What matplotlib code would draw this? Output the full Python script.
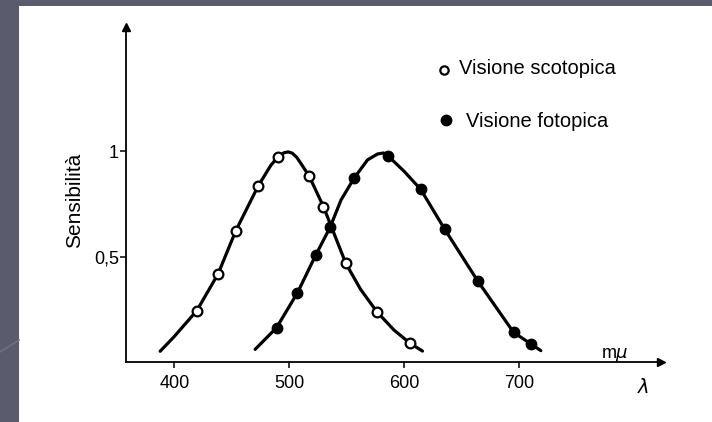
import matplotlib
matplotlib.use("Agg")
import matplotlib.pyplot as plt
from matplotlib.patches import Rectangle
from matplotlib.lines import Line2D

plt.rcParams['font.family'] = ['Liberation Sans', 'DejaVu Sans']

# misure (lunghezza d'onda in m-mu, sensibilita' relativa)
scot_l = [419.6, 438.1, 453.5, 472.9, 490.3, 517.2, 529.7, 549.1, 576.1, 605.0]
scot_s = [0.244, 0.419, 0.624, 0.836, 0.975, 0.884, 0.738, 0.469, 0.239, 0.089]
foto_l = [488.9, 507.1, 523.0, 535.5, 556.3, 585.9, 614.3, 635.2, 663.7, 695.0, 710.0]
foto_s = [0.163, 0.329, 0.508, 0.640, 0.873, 0.979, 0.820, 0.630, 0.386, 0.141, 0.086]

# tracciato delle curve
scot_curve_l = [387.7, 399.8, 419.6, 438.1, 453.5, 472.9, 484.0, 490.3, 495.4, 499.0, 502.6,
                506.5, 510.0, 517.2, 529.7, 549.1, 562.0, 576.1, 591.0, 605.0, 615.8]
scot_curve_s = [0.051, 0.120, 0.244, 0.419, 0.624, 0.836, 0.935, 0.975, 0.994, 0.998, 0.992,
                0.972, 0.944, 0.884, 0.738, 0.469, 0.345, 0.239, 0.152, 0.089, 0.052]
foto_curve_l = [470.3, 488.9, 507.1, 523.0, 535.5, 545.0, 556.3, 568.0, 576.7, 582.0, 585.9,
                600.0, 614.3, 635.2, 663.7, 695.0, 710.0, 718.7]
foto_curve_s = [0.060, 0.163, 0.329, 0.508, 0.640, 0.770, 0.873, 0.960, 0.988, 0.993, 0.979,
                0.905, 0.820, 0.630, 0.386, 0.141, 0.086, 0.054]

x_ticks = [400, 500, 600, 700]
y_ticks = [0.5, 1]
y_ticklabels = ['0,5', '1']

fig = plt.figure(figsize=(7.12, 4.22), dpi=100, facecolor='#5a5c6e')
fig.patches.append(Rectangle((19 / 712, 0), 1, 1 - 6 / 422, transform=fig.transFigure,
                             facecolor='white', edgecolor='none', zorder=-2))
fig.lines.append(Line2D([0, 19 / 712], [70 / 422, 82 / 422], transform=fig.transFigure,
                        color='#6e7082', lw=1.2, zorder=-1))

ax = fig.add_axes([126 / 712, 60 / 422, 534.75 / 712, 334.7 / 422])
ax.set_zorder(1)
ax.set_facecolor('none')
ax.set_xlim(358, 823)
ax.set_ylim(0, 1.59)

ax.plot(scot_curve_l, scot_curve_s, color='black', lw=2.3, solid_capstyle='round', zorder=2)
ax.plot(foto_curve_l, foto_curve_s, color='black', lw=2.3, solid_capstyle='round', zorder=2)
ax.plot(scot_l, scot_s, 'o', ms=7, mfc='white', mec='black', mew=1.6, zorder=3)
ax.plot(foto_l, foto_s, 'o', ms=7.5, mfc='black', mec='black', zorder=3)

for side in ['top', 'right']:
    ax.spines[side].set_visible(False)
for side in ['left', 'bottom']:
    ax.spines[side].set_linewidth(1.3)
ax.plot(1, 0, '>', color='black', ms=6, transform=ax.transAxes, clip_on=False)
ax.plot(0, 1, '^', color='black', ms=6, transform=ax.transAxes, clip_on=False)

ax.set_xticks(x_ticks)
ax.set_yticks(y_ticks)
ax.set_yticklabels(y_ticklabels)
ax.tick_params(axis='both', direction='out', length=4, width=1.1, labelsize=13)
ax.tick_params(axis='x', pad=5)
ax.tick_params(axis='y', pad=1)

ax.set_ylabel('Sensibilità', fontsize=15)
ax.yaxis.set_label_coords(-0.0785, 0.484)
ax.text(783, 0.033, 'm$\\mu$', fontsize=13, ha='center', va='center')
ax.text(808, -0.12, '$\\lambda$', fontsize=14, ha='center', va='center', clip_on=False)

# legenda
ax.plot(634.3, 1.387, 'o', ms=6, mfc='white', mec='black', mew=1.6, clip_on=False)
ax.plot(636.1, 1.150, 'o', ms=7.5, mfc='black', mec='black', clip_on=False)
ax.text(647.4, 1.368, 'Visione scotopica', fontsize=14.5, va='baseline')
ax.text(653.5, 1.118, 'Visione fotopica', fontsize=14.5, va='baseline')

fig.savefig('out.png', dpi=100, facecolor=fig.get_facecolor())
